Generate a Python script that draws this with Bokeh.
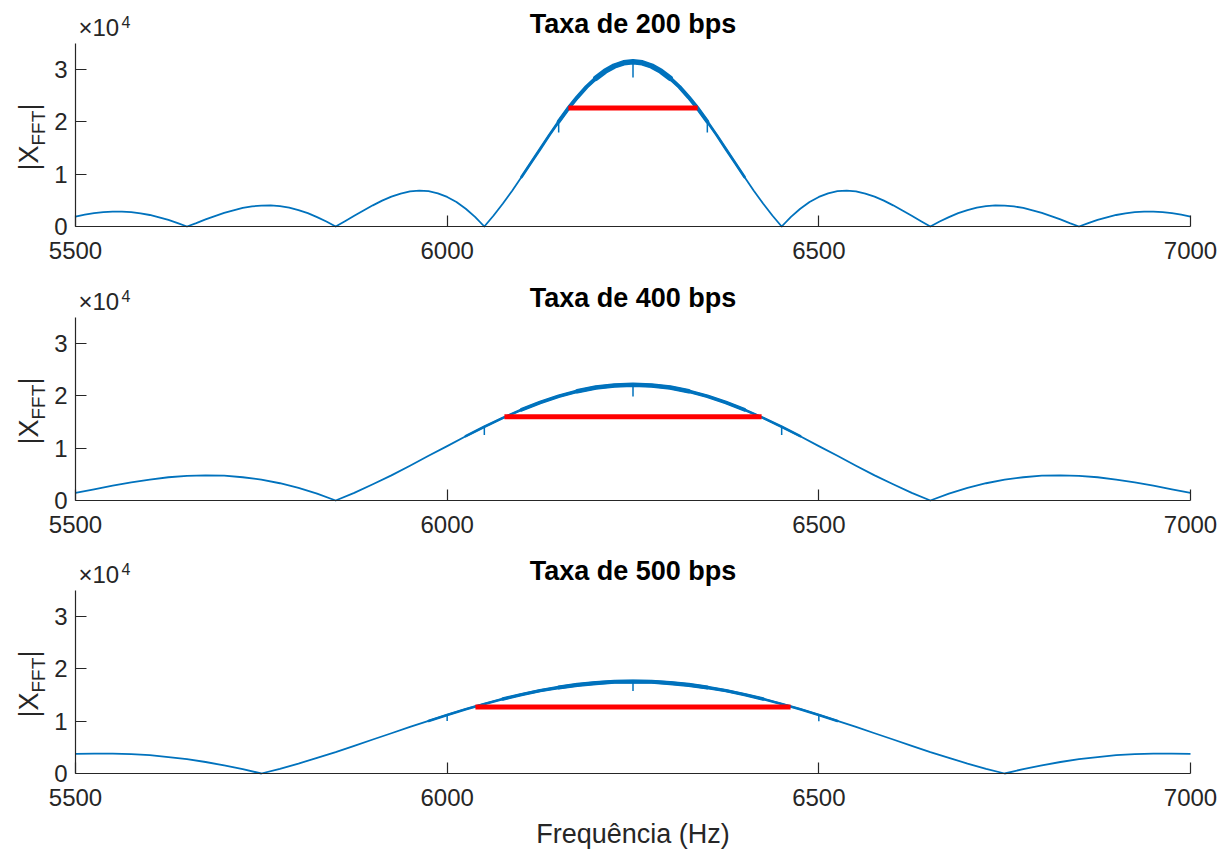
from bokeh.plotting import figure
from bokeh.models import Range1d, FixedTicker, Label
from bokeh.layouts import column
from bokeh.embed import file_html
from bokeh.resources import INLINE
import math

# ---------------- data ----------------
# sampling grids of the read curves (Hz)
FREQ_200 = [5500 + 12.5 * k for k in range(121)]
FREQ_25 = [5500 + 25 * k for k in range(61)]

MAG_200 = [1900, 2250, 2550, 2750, 2850, 2850, 2750, 2500, 2200, 1750,
           1250, 650, 0, 650, 1350, 2000, 2600, 3100, 3550, 3850,
           4000, 4050, 3900, 3600, 3150, 2550, 1800, 950, 0, 1000,
           2050, 3050, 4050, 4950, 5700, 6300, 6700, 6850, 6750, 6350,
           5650, 4700, 3400, 1850, 0, 2100, 4400, 6850, 9450, 12150,
           14800, 17500, 20050, 22500, 24700, 26700, 28350, 29700, 30700, 31300,
           31500,
           31300, 30700, 29700, 28350, 26700, 24700, 22500, 20050, 17500, 14800,
           12150, 9450, 6850, 4400, 2100, 0, 1850, 3400, 4700, 5650,
           6350, 6750, 6850, 6700, 6300, 5700, 4950, 4050, 3050, 2050,
           1000, 0, 950, 1800, 2550, 3150, 3600, 3900, 4050, 4000,
           3850, 3550, 3100, 2600, 2000, 1350, 650, 0, 650, 1250,
           1750, 2200, 2500, 2750, 2850, 2850, 2750, 2550, 2250, 1900]

MAG_400 = [1450, 2150, 2850, 3450, 4000, 4450, 4700, 4800, 4750, 4450, 4000, 3300,
           2400, 1300, 0, 1450, 3100, 4800, 6650, 8550, 10400, 12300, 14100, 15800,
           17350, 18750, 19950, 20900, 21600, 22000, 22150, 22000, 21600, 20900,
           19950, 18750, 17350, 15800, 14100, 12300, 10400, 8550, 6650, 4800, 3100,
           1450, 0, 1300, 2400, 3300, 4000, 4450, 4750, 4800, 4700, 4450, 4000,
           3450, 2850, 2150, 1450]

MAG_500 = [3750, 3800, 3800, 3700, 3500, 3150, 2750, 2200, 1550, 850, 0, 900,
           1900, 3000, 4100, 5300, 6500, 7700, 8900, 10050, 11200, 12300, 13300,
           14250, 15100, 15850, 16450, 16950, 17300, 17550, 17600, 17550, 17300,
           16950, 16450, 15850, 15100, 14250, 13300, 12300, 11200, 10050, 8900,
           7700, 6500, 5300, 4100, 3000, 1900, 900, 0, 850, 1550, 2200, 2750, 3150,
           3500, 3700, 3800, 3800, 3750]

# narrow dips visible on the main lobe
SPIKE_F_200 = [6150, 6250, 6350]
SPIKE_LOW_200 = [18000, 28500, 18000]
SPIKE_F_400 = [6050, 6250, 6450]
SPIKE_LOW_400 = [12550, 19900, 12550]
SPIKE_F_500 = [6000, 6250, 6500]
SPIKE_LOW_500 = [10050, 15800, 10000]

# red half-power segments: start Hz, end Hz, level
RED_200 = [6163, 6337, 22650]
RED_400 = [6077, 6423, 16020]
RED_500 = [6038, 6462, 12730]

TITLES = ["Taxa de 200 bps", "Taxa de 400 bps", "Taxa de 500 bps"]
X_TICKS = [5500, 6000, 6500, 7000]
Y_TICKS = [0, 10000, 20000, 30000]
Y_TICK_LABELS = ["0", "1", "2", "3"]
X_LABEL = "Frequência (Hz)"

# ---------------- style / layout ----------------
BLUE = "#0072BD"
DARK = "#262626"
FONT = "Liberation Sans"
XMIN, XMAX = 5500, 7000
YMIN, YMAX = 0, 35000
W = 1229
AX_LEFT_PX, AX_RIGHT_PX = 75, 1190      # pixel columns of 5500 and 7000
AX_TOP_PX, AX_ZERO_PX = 43, 226         # pixel rows (within a figure) of 35000 and 0
HPP = (XMAX - XMIN) / (AX_RIGHT_PX - AX_LEFT_PX)       # Hz per pixel
UPP = (YMAX - YMIN) / (AX_ZERO_PX - AX_TOP_PX)         # units per pixel
MID = 0.35   # distance baseline -> text middle, in em

# thicker (noisy) band on the main lobe: (lo Hz, hi Hz, width)
BANDS = [
    [(6100, 6400, 2.8), (6150, 6350, 4.0), (6200, 6300, 5.5)],
    [(6025, 6475, 2.6), (6100, 6400, 3.6), (6175, 6325, 4.6)],
    [(5975, 6525, 2.6), (6075, 6425, 3.4), (6150, 6350, 4.2)],
]


def text_label(x, y_px, text, size, x_off=0, angle=0.0, align="left",
               bold=False, color=DARK):
    """y_px: baseline distance (px) above y=0 ; label anchored at the text middle."""
    if angle:
        x_off = x_off - MID * size
        y = YMIN + y_px * UPP
    else:
        y = YMIN + (y_px + MID * size) * UPP
    return Label(x=x, y=y, x_offset=x_off, text=text, angle=angle,
                 text_font=FONT, text_font_size=f"{size}px",
                 text_font_style="bold" if bold else "normal",
                 text_color=color, text_align=align, text_baseline="middle")


def make_plot(idx, freq, mags, spike_f, spike_low, red, height, xlabel=None):
    x_lo = XMIN - AX_LEFT_PX * HPP
    x_hi = XMAX + (W - AX_RIGHT_PX) * HPP
    y_hi = YMAX + AX_TOP_PX * UPP
    y_lo = YMIN - (height - AX_ZERO_PX) * UPP
    p = figure(width=W, height=height, output_backend="svg", toolbar_location=None,
               x_range=Range1d(x_lo, x_hi), y_range=Range1d(y_lo, y_hi),
               min_border=0, min_border_left=0, min_border_right=0,
               min_border_top=0, min_border_bottom=0)
    p.outline_line_color = None
    p.xgrid.visible = False
    p.ygrid.visible = False
    p.background_fill_color = "white"
    p.border_fill_color = "white"

    p.xaxis.fixed_location = YMIN
    p.yaxis.fixed_location = XMIN
    p.xaxis.bounds = (XMIN, XMAX)
    p.yaxis.bounds = (YMIN, YMAX)
    for ax in (p.xaxis[0], p.yaxis[0]):
        ax.axis_line_color = DARK
        ax.axis_line_width = 1.2
        ax.major_tick_line_color = DARK
        ax.major_tick_line_width = 1.2
        ax.major_tick_in = 11
        ax.major_tick_out = 0
        ax.minor_tick_line_color = None
        ax.major_label_text_font = FONT
        ax.major_label_text_font_size = "24px"
        ax.major_label_text_color = DARK
    p.xaxis.ticker = FixedTicker(ticks=X_TICKS)
    p.yaxis.ticker = FixedTicker(ticks=Y_TICKS)
    p.yaxis.major_label_overrides = {t: s for t, s in zip(Y_TICKS, Y_TICK_LABELS)}
    p.xaxis.major_label_standoff = 15
    p.yaxis.major_label_standoff = 8

    # spectrum
    p.line(freq, mags, line_color=BLUE, line_width=1.8, line_join="round")
    for lo, hi, w in BANDS[idx]:
        xs = [f for f in freq if lo <= f <= hi]
        ys = [m for f, m in zip(freq, mags) if lo <= f <= hi]
        p.line(xs, ys, line_color=BLUE, line_width=w, line_join="round", line_cap="round")
    lookup = dict(zip(freq, mags))
    p.segment(x0=spike_f, y0=[lookup[f] for f in spike_f], x1=spike_f, y1=spike_low,
              line_color=BLUE, line_width=1.5)

    # half-power line
    p.line([red[0], red[1]], [red[2], red[2]], line_color="#FF0000", line_width=5)

    top_px = AX_ZERO_PX - AX_TOP_PX   # 183 px: height of the axes
    # title
    p.add_layout(text_label((XMIN + XMAX) / 2, top_px + 10, TITLES[idx], 27,
                            align="center", bold=True, color="black"))
    # exponent x10^4
    p.add_layout(text_label(XMIN, top_px + 8, "×10", 24, x_off=3))
    p.add_layout(text_label(XMIN, top_px + 16, "4", 16, x_off=46))
    # y label |X_FFT|
    a = math.pi / 2
    p.add_layout(text_label(XMIN, 56, "|X", 27, x_off=-37, angle=a))
    p.add_layout(text_label(XMIN, 81, "FFT", 19, x_off=-30, angle=a))
    p.add_layout(text_label(XMIN, 116, "|", 27, x_off=-37, angle=a))
    if xlabel:
        p.add_layout(text_label((XMIN + XMAX) / 2, -70, xlabel, 27, align="center"))
    return p


p1 = make_plot(0, FREQ_200, MAG_200, SPIKE_F_200, SPIKE_LOW_200, RED_200, 274)
p2 = make_plot(1, FREQ_25, MAG_400, SPIKE_F_400, SPIKE_LOW_400, RED_400, 273)
p3 = make_plot(2, FREQ_25, MAG_500, SPIKE_F_500, SPIKE_LOW_500, RED_500, 303, X_LABEL)

layout = column(p1, p2, p3, spacing=0)
open("out.html", "w").write(file_html(layout, INLINE))
